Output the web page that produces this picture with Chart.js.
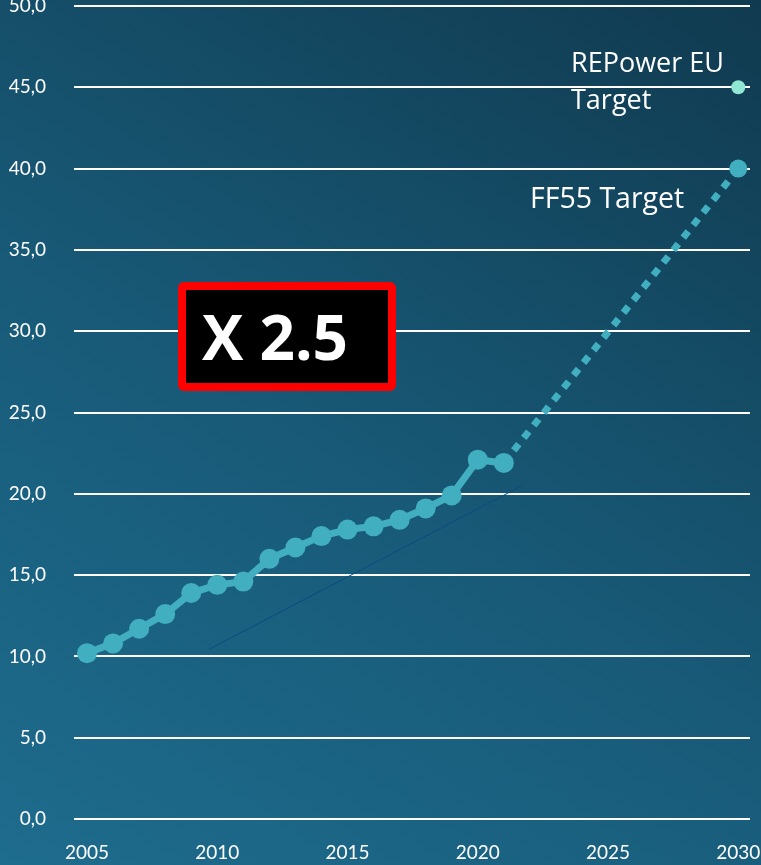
<!DOCTYPE html>
<html>
<head>
<meta charset="utf-8">
<script src="https://cdn.jsdelivr.net/npm/chart.js@4"></script>
<style>
  html, body { margin: 0; padding: 0; }
  body {
    width: 761px; height: 865px; overflow: hidden;
    background: linear-gradient(32deg, #1e6c8e 0%, #185a78 45%, #103a4f 100%);
    font-family: "Open Sans", sans-serif;
  }
  #wrap { position: relative; width: 761px; height: 865px; }
  canvas { position: absolute; left: 0; top: 0; }
  .note { position: absolute; color: #fff; white-space: nowrap; }
  #badge {
    position: absolute; left: 178px; top: 282px; height: 93px; width: 186px;
    background: #000; border: 8px solid #ff0000; border-radius: 6px;
    color: #fff; font-weight: bold; font-size: 62px; line-height: 93px;
    padding-left: 16px; box-sizing: content-box;
  }
</style>
</head>
<body>
<div id="wrap">
  <canvas id="chart" width="761" height="865"></canvas>
  <div class="note" style="left:571px; top:43px; font-size:27px; line-height:37px;">REPower EU<br>Target</div>
  <div class="note" style="left:530px; top:179px; font-size:28.5px; line-height:37px;">FF55 Target</div>
  <div id="badge">X 2.5</div>
</div>
<script>
// Valores (cuota renovable, %)
const years = [2005, 2006, 2007, 2008, 2009, 2010, 2011, 2012, 2013, 2014, 2015, 2016, 2017, 2018, 2019, 2020, 2021];
const shares = [10.2, 10.8, 11.7, 12.6, 13.9, 14.4, 14.6, 16.0, 16.7, 17.4, 17.8, 18.0, 18.4, 19.1, 19.9, 22.1, 21.9];
const ff55Years = [2021, 2030];
const ff55Values = [21.9, 40.0];
const repowerYears = [2030];
const repowerValues = [45.0];
const trendYears = [2009.7, 2021.7];
const trendValues = [10.45, 20.5];
const xTicks = [2005, 2010, 2015, 2020, 2025, 2030];
const yTicks = [0, 5, 10, 15, 20, 25, 30, 35, 40, 45, 50];

const toPoints = (xs, ys) => xs.map((x, i) => ({ x: x, y: ys[i] }));

// quitar el relleno automático de las escalas
const noPadding = (axis) => {
  axis.paddingTop = 0;
  axis.paddingBottom = 0;
  axis.paddingLeft = 0;
  axis.paddingRight = 0;
};

const ctx = document.getElementById('chart');
new Chart(ctx, {
  type: 'line',
  data: {
    datasets: [
      {
        data: toPoints(years, shares),
        borderColor: '#41afc0',
        backgroundColor: '#41afc0',
        borderWidth: 7,
        pointRadius: 10,
        pointHoverRadius: 10,
        pointBorderWidth: 0,
        order: 1
      },
      {
        data: toPoints(ff55Years, ff55Values),
        borderColor: '#41afc0',
        backgroundColor: '#41afc0',
        borderWidth: 7,
        borderDash: [8, 8],
        borderCapStyle: 'butt',
        pointRadius: [0, 9],
        pointBorderWidth: 0,
        order: 2
      },
      {
        data: toPoints(repowerYears, repowerValues),
        showLine: false,
        backgroundColor: '#8fe6d2',
        pointRadius: 7,
        pointBorderWidth: 0,
        order: 2
      },
      {
        data: toPoints(trendYears, trendValues),
        borderColor: '#0c4a82',
        borderWidth: 1,
        pointRadius: 0,
        order: 3
      }
    ]
  },
  options: {
    responsive: false,
    animation: false,
    clip: false,
    layout: { autoPadding: false, padding: { top: 6, right: 11, left: 0, bottom: 0 } },
    plugins: { legend: { display: false }, tooltip: { enabled: false } },
    scales: {
      x: {
        type: 'linear',
        min: 2004.5,
        max: 2030.45,
        afterBuildTicks: (axis) => { axis.ticks = xTicks.map(v => ({ value: v })); },
        afterFit: (axis) => { axis.height = 46; noPadding(axis); },
        grid: { display: false, drawTicks: false },
        border: { display: false },
        ticks: {
          color: '#ffffff',
          padding: 22,
          maxRotation: 0,
          autoSkip: false,
          font: { family: 'Lato', size: 19 },
          callback: (v) => String(v)
        }
      },
      y: {
        min: 0,
        max: 50,
        afterBuildTicks: (axis) => { axis.ticks = yTicks.map(v => ({ value: v })); },
        afterFit: (axis) => { axis.width = 74; noPadding(axis); },
        grid: { color: '#ffffff', lineWidth: 2, drawTicks: false },
        border: { display: false },
        ticks: {
          color: '#ffffff',
          padding: 28,
          font: { family: 'Lato', size: 19 },
          callback: (v) => v.toFixed(1).replace('.', ',')
        }
      }
    }
  }
});
</script>
</body>
</html>
